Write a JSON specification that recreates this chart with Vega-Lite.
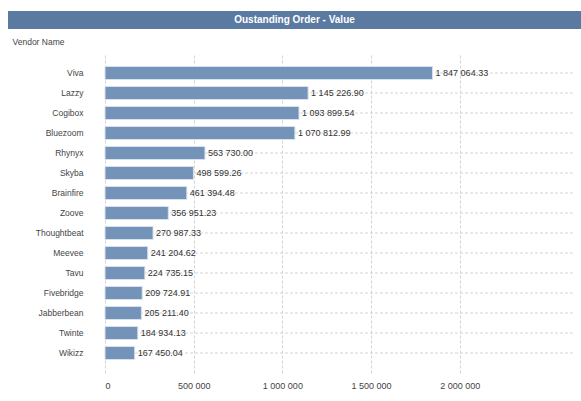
{
  "$schema": "https://vega.github.io/schema/vega-lite/v6.json",
  "padding": {"left": 8, "top": 11, "right": 0, "bottom": 0},
  "background": "white",
  "spacing": 8,
  "config": {
    "locale": {"number": {"decimal": ".", "thousands": " ", "grouping": [3], "currency": ["", ""]}},
    "font": "Liberation Sans",
    "view": {"stroke": null}
  },
  "vconcat": [
    {
      "width": 573,
      "height": 18,
      "view": {"fill": "#5b7aa2", "stroke": null},
      "data": {"values": [{"t": "Oustanding Order - Value"}]},
      "mark": {"type": "text", "color": "white", "fontSize": 10, "fontWeight": "bold", "font": "Liberation Sans"},
      "encoding": {"text": {"field": "t"}}
    },
    {
      "width": 567,
      "height": 320,
      "data": {"values": [
        {"vendor": "Viva", "value": 1847064.33},
        {"vendor": "Lazzy", "value": 1145226.90},
        {"vendor": "Cogibox", "value": 1093899.54},
        {"vendor": "Bluezoom", "value": 1070812.99},
        {"vendor": "Rhynyx", "value": 563730.00},
        {"vendor": "Skyba", "value": 498599.26},
        {"vendor": "Brainfire", "value": 461394.48},
        {"vendor": "Zoove", "value": 356951.23},
        {"vendor": "Thoughtbeat", "value": 270987.33},
        {"vendor": "Meevee", "value": 241204.62},
        {"vendor": "Tavu", "value": 224735.15},
        {"vendor": "Fivebridge", "value": 209724.91},
        {"vendor": "Jabberbean", "value": 205211.40},
        {"vendor": "Twinte", "value": 184934.13},
        {"vendor": "Wikizz", "value": 167450.04}
      ]},
      "encoding": {
        "y": {
          "field": "vendor", "type": "nominal", "sort": null,
          "scale": {"paddingInner": 0.35, "paddingOuter": 0.675},
          "axis": {
            "title": "Vendor Name", "titleAngle": 0, "titleAlign": "left", "titleBaseline": "middle",
            "titleX": -93, "titleY": -12, "titleFontSize": 8.5, "titleFontWeight": "normal", "titleColor": "#444",
            "offset": -97,
            "labelFontSize": 8.5, "labelColor": "#444", "labelPadding": 22, "ticks": false, "domain": false,
            "grid": false
          }
        },
        "x": {
          "field": "value", "type": "quantitative",
          "scale": {"domain": [0, 2650000], "nice": false, "range": [97, 567]},
          "axis": {
            "title": null, "values": [0, 500000, 1000000, 1500000, 2000000], "format": ",d",
            "labelFontSize": 9, "labelColor": "#444", "labelPadding": 8, "ticks": false, "domain": false,
            "gridColor": "#d4d4d4", "gridDash": [3, 2]
          }
        }
      },
      "layer": [
        {"mark": {"type": "rule", "color": "#d4d4d4", "strokeDash": [3, 2]},
         "encoding": {"x": {"datum": 0}, "x2": {"datum": 2650000}}},
        {"mark": {"type": "bar", "color": "#7393b8", "stroke": "#d8e1ec", "strokeWidth": 1}},
        {"mark": {"type": "text", "align": "left", "dx": 3, "fontSize": 9, "color": "#333"},
         "encoding": {"text": {"field": "value", "type": "quantitative", "format": ",.2f"}}}
      ]
    }
  ]
}
